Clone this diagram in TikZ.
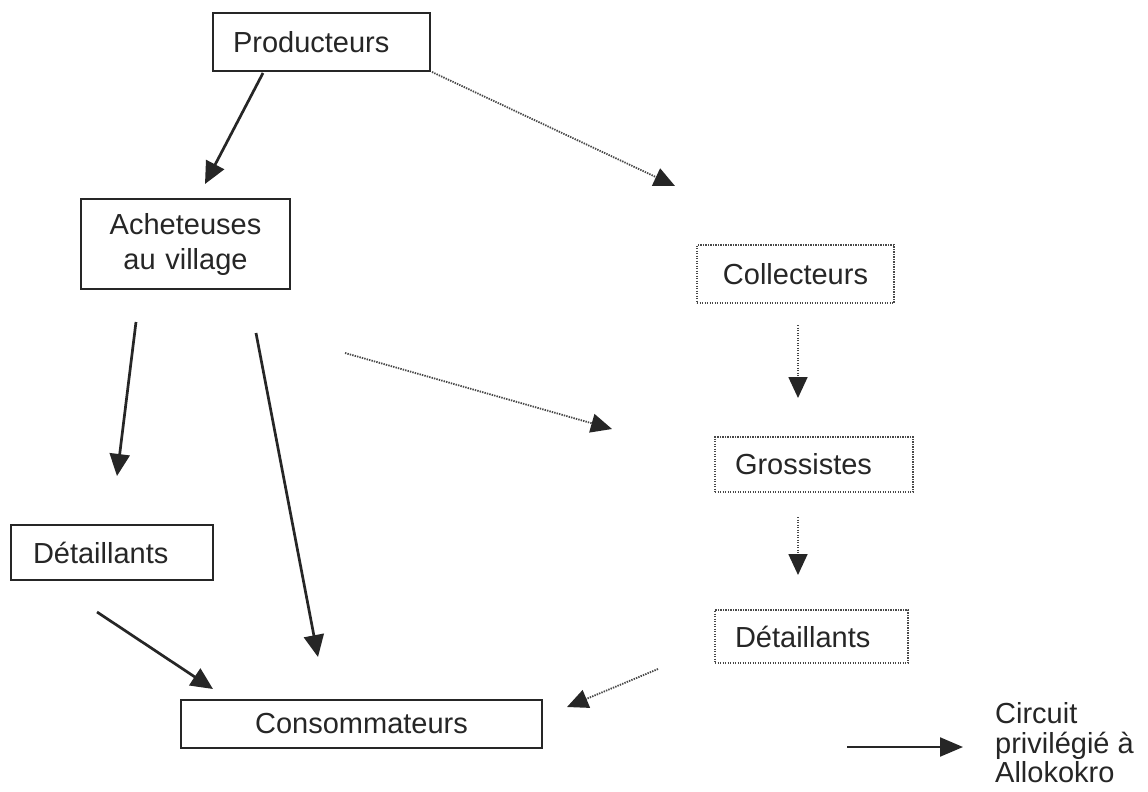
\documentclass[tikz,border=0pt]{standalone}
\usepackage{fontspec}
\setmainfont{Liberation Sans}
\usetikzlibrary{arrows.meta}
\definecolor{ink}{HTML}{262626}
\definecolor{dotc}{HTML}{484848}
\begin{document}
\begin{tikzpicture}[x=1pt,y=-1pt,
  every node/.style={font=\fontsize{29}{35}\selectfont, text=ink},
  boxs/.style={draw=ink, line width=1.8pt, inner ysep=0pt},
  boxd/.style={draw=dotc, line width=1.9pt, dash pattern=on 1.4pt off 1.1pt, inner ysep=0pt},
  arr/.style={draw=ink, line width=2.7pt, -{Triangle[length=22pt,width=20pt]}},
  darr/.style={draw=dotc, line width=1.8pt, dash pattern=on 1.4pt off 1.1pt, -{Triangle[length=21pt,width=19pt,color=ink]}},
  legarr/.style={draw=ink, line width=2.2pt, -{Triangle[length=23pt,width=19pt]}}
]
\fill[white] (0,0) rectangle (1148,792);
\useasboundingbox (0,0) rectangle (1148,792);

% solid boxes
\node[boxs, minimum height=58pt, text width=177pt, inner xsep=20pt, align=left] (prod) at (321.5,42) {Producteurs};
\node[boxs, minimum height=90pt, text width=189pt, inner xsep=10pt, align=center] (ach) at (185.5,244) {Acheteuses\\au village};
\node[boxs, minimum height=55pt, text width=158pt, inner xsep=22pt, align=left] (detL) at (112,552.5) {Détaillants};
\node[boxs, minimum height=48pt, text width=341pt, inner xsep=10pt, align=center] (cons) at (361.5,724) {Consommateurs};

% dotted boxes
\node[boxd, minimum height=58pt, text width=177pt, inner xsep=10pt, align=center] (coll) at (795.5,274) {Collecteurs};
\node[boxd, minimum height=55pt, text width=158pt, inner xsep=20pt, align=left] (gros) at (814,464.5) {Grossistes};
\node[boxd, minimum height=53pt, text width=153pt, inner xsep=20pt, align=left] (detR) at (811.5,636.5) {Détaillants};

% legend
\node[anchor=west, inner sep=0pt, align=left, font=\fontsize{29}{29.5}\selectfont] (leg) at (995,743) {Circuit\\privilégié à\\Allokokro};

% connector end points
\coordinate (p1) at (263,73);   \coordinate (q1) at (205,184);
\coordinate (p2) at (432,72);   \coordinate (q2) at (675,186);
\coordinate (p3) at (136,322);  \coordinate (q3) at (117,476);
\coordinate (p4) at (256,333);  \coordinate (q4) at (318,657);
\coordinate (p5) at (345,353);  \coordinate (q5) at (612,429);
\coordinate (p6) at (97,612);   \coordinate (q6) at (213,689);
\coordinate (p7) at (798,325);  \coordinate (q7) at (798,398);
\coordinate (p8) at (798,517);  \coordinate (q8) at (798,575);
\coordinate (p9) at (658,669);  \coordinate (q9) at (567,707);
\coordinate (lp) at (847,747);  \coordinate (lq) at (963,747);

\draw[arr] (p1) -- (q1);
\draw[darr] (p2) -- (q2);
\draw[arr] (p3) -- (q3);
\draw[arr] (p4) -- (q4);
\draw[darr] (p5) -- (q5);
\draw[arr] (p6) -- (q6);
\draw[darr] (p7) -- (q7);
\draw[darr] (p8) -- (q8);
\draw[darr] (p9) -- (q9);
\draw[legarr] (lp) -- (lq);
\end{tikzpicture}
\end{document}
